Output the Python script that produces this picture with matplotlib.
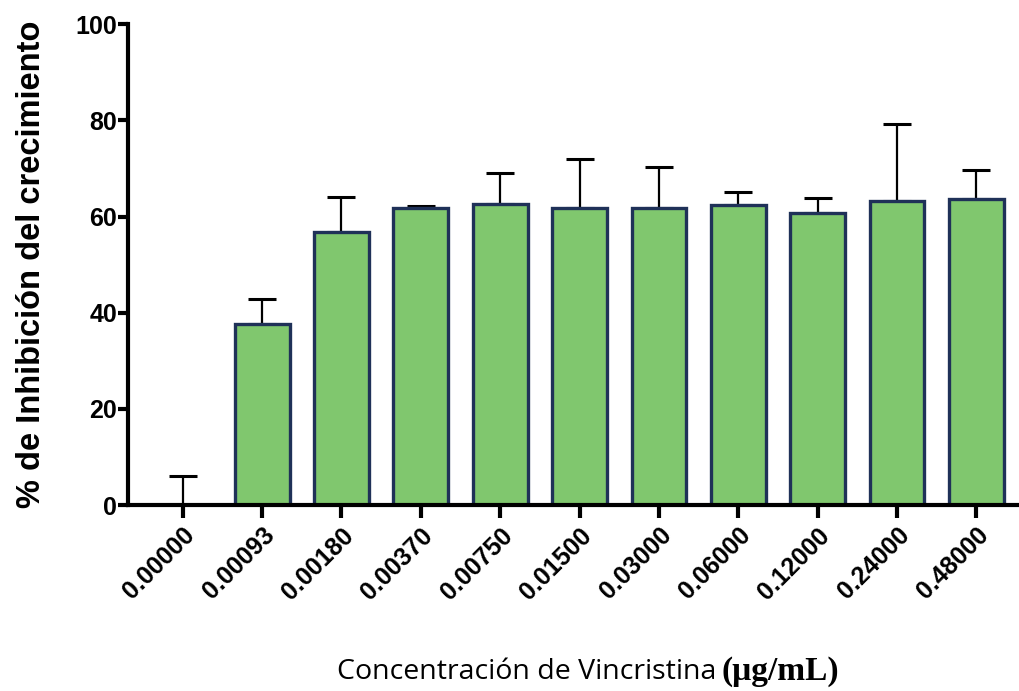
import matplotlib
matplotlib.use("Agg")
import matplotlib.pyplot as plt
import numpy as np

# concentraciones de vincristina (ug/mL) y % de inhibicion (media + DE)
concentraciones = ["0.00000", "0.00093", "0.00180", "0.00370", "0.00750", "0.01500",
                   "0.03000", "0.06000", "0.12000", "0.24000", "0.48000"]
inhibicion = [0.0, 37.6, 56.7, 61.8, 62.6, 61.8, 61.8, 62.5, 60.7, 63.3, 63.6]
desviacion = [6.0, 5.2, 7.4, 0.4, 6.4, 10.2, 8.5, 2.7, 3.2, 15.9, 6.1]

plt.rcParams['font.family'] = ['Liberation Sans', 'DejaVu Sans']

fig = plt.figure(figsize=(10.2, 6.91), dpi=100)
ax = fig.add_axes([0.1255, 0.269, 0.8745, 0.696])

x = np.arange(len(concentraciones))
ax.bar(x, inhibicion, width=0.69, color="#80C76E", edgecolor="#1F3158",
       linewidth=2.4, zorder=2)
ax.errorbar(x, inhibicion, yerr=[np.zeros(len(x)), desviacion], fmt="none",
            ecolor="black", elinewidth=1.6, capsize=10, capthick=2.2, zorder=1)

ax.set_xlim(-0.69, 10.55)
ax.set_ylim(0, 100)
ax.set_yticks([0, 20, 40, 60, 80, 100])
ax.set_xticks(x)
ax.set_xticklabels(concentraciones, rotation=45, ha="right", rotation_mode="anchor",
                   fontweight="bold", fontsize=18)
# corre un poco las etiquetas rotadas hacia la izquierda
import matplotlib.transforms as mtransforms
shift = mtransforms.ScaledTranslation(-5 / 100, 0, fig.dpi_scale_trans)
for lbl in ax.get_xticklabels():
    lbl.set_transform(lbl.get_transform() + shift)
for lbl in ax.get_yticklabels():
    lbl.set_fontweight("bold")
    lbl.set_fontsize(18)

for s in ["top", "right"]:
    ax.spines[s].set_visible(False)
for s in ["left", "bottom"]:
    ax.spines[s].set_linewidth(3)
ax.tick_params(axis="y", length=7, width=3, pad=1)
ax.tick_params(axis="x", length=9, width=3, pad=4)

ax.set_ylabel("% de Inhibición del crecimiento", fontsize=23.5, fontweight="bold", labelpad=20)

# titulo del eje x: texto sans + unidades en serif
fig.text(0.702, 0.028, "Concentración de Vincristina", fontsize=20.5, ha="right",
         va="center", family="Open Sans")
fig.text(0.707, 0.028, "(μg/mL)", fontsize=24, ha="left", va="center",
         family="Liberation Serif", fontweight="bold")

fig.savefig("out.png", dpi=100)
